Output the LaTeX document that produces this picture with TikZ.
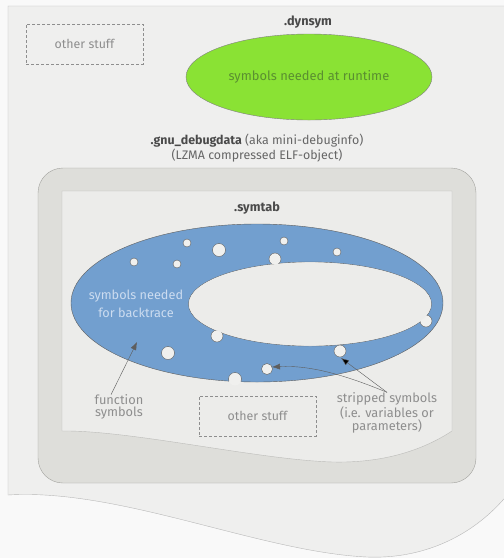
\documentclass[tikz,border=0pt]{standalone}
\usepackage{fontspec}
\setmainfont{Fira Sans}
\usetikzlibrary{shapes,arrows.meta,positioning,calc}
\definecolor{outerbg}{HTML}{F9F9F9}
\definecolor{pagebg}{HTML}{EFEFEE}
\definecolor{pageline}{HTML}{B8B8B8}
\definecolor{debugbg}{HTML}{DEDEDA}
\definecolor{debugline}{HTML}{A2A29E}
\definecolor{symbg}{HTML}{ECECEA}
\definecolor{symline}{HTML}{BBBBB8}
\definecolor{dotbg}{HTML}{F0F0EE}
\definecolor{ringblue}{HTML}{729FCF}
\definecolor{ringline}{HTML}{5E5E5E}
\definecolor{dyngreen}{HTML}{8AE234}
\definecolor{dyntext}{HTML}{5A8F30}
\definecolor{bttext}{HTML}{CCDCF0}
\definecolor{softtext}{HTML}{8E8E8E}
\definecolor{darktext}{HTML}{4A4A4A}
\definecolor{midtext}{HTML}{666666}
\tikzset{
stuff/.style = {draw=softtext, dash pattern=on 3pt off 2pt, text=softtext, minimum width=117pt, minimum height=40pt, font=\fontsize{12.4}{13}\selectfont},
sect/.style = {text=darktext, font=\fontsize{12.7}{13}\selectfont\bfseries},
note/.style = {text=softtext, align=center, inner sep=0pt, font=\fontsize{12.8}{11.5}\selectfont},
arr/.style = {->, draw=ringline, thin}
}
\begin{document}
\begin{tikzpicture}[x=1pt, y=-1pt, >={Latex[length=8pt,width=6pt]}]
    \useasboundingbox (0,0) rectangle (504,558);
    \fill[outerbg] (0,0) rectangle (504,558);
    \clip (0,0) rectangle (504,558);
    \path[draw=pageline, fill=pagebg] (8,6) -- (530,6) -- (530,460) .. controls (500,520) and (440,560) .. (367,557) .. controls (260,552) and (120,488) .. (8,495) -- cycle;

    \node [stuff] (stuff1) at (84.5,44) {other stuff};
    \node [sect] (dynsym) at (308,22) {.dynsym};
    \node [ellipse, draw=ringline!80, fill=dyngreen, minimum width=246pt, minimum height=86pt, text=dyntext, font=\fontsize{12.9}{13}\selectfont] (runtime) at (309,77) {symbols needed at runtime};
    \node [align=center, text=midtext, font=\fontsize{12.4}{15}\selectfont] (gnu) at (257,148) {\textcolor{darktext}{\bfseries .gnu\_debugdata} (aka mini-debuginfo)\\(LZMA compressed ELF-object)};

    \node [draw=debugline, fill=debugbg, rounded corners=25pt, minimum width=438pt, minimum height=315pt] (debug) at (257,325.5) {};
    \path[draw=symline, fill=symbg] (62,191) -- (452,191) -- (452,431) .. controls (420,452) and (380,463) .. (333,462) .. controls (260,460) and (130,430) .. (62,431) -- cycle;
    \node [sect] (symtab) at (257,208) {.symtab};

    \path[draw=ringline, fill=ringblue] (257,303) ellipse [x radius=186pt, y radius=79pt];
    \path[draw=ringline, fill=symbg] (310,304) ellipse [x radius=121.5pt, y radius=42pt];
    \foreach \x/\y/\r in {187/243/4,219/250/6.5,134/262/4,177/264/4,284/241/4,337/252/4,275/259/6,426/321/6,217/336/6,168/353/6.5,340/351/6,267/369/5.5,235/379/6.5}
        \fill[dotbg] (\x,\y) circle (\r pt);
    \begin{scope}
        \clip (257,303) ellipse [x radius=186pt, y radius=79pt];
        \foreach \x/\y/\r in {187/243/4,219/250/6.5,134/262/4,177/264/4,284/241/4,337/252/4,275/259/6,426/321/6,217/336/6,168/353/6.5,340/351/6,267/369/5.5,235/379/6.5}
            \draw[ringline, thin] (\x,\y) circle (\r pt);
    \end{scope}
    \fill[symbg] (310,304) ellipse [x radius=121.1pt, y radius=41.6pt];
    \node [align=center, text=bttext, font=\fontsize{12.7}{18}\selectfont] (backtrace) at (136,304) {symbols needed\\for backtrace};

    \node [note] (fsym) at (119,407) {function\\symbols};
    \node [stuff] (stuff2) at (257.5,416) {other stuff};
    \node [note] (ssym) at (387,413) {stripped symbols\\(i.e. variables or\\parameters)};
    \coordinate (tipfun) at (137,342);
    \coordinate (tipvar) at (341,358);
    \coordinate (tippar) at (272,367);
    \draw [arr] ([xshift=-8pt]fsym.north) -- (tipfun);
    \draw [arr, -{Latex[length=8pt,width=6pt,fill=black]}] (ssym.north) -- (tipvar);
    \draw [arr] (ssym.north) .. controls (345,375) and (310,365) .. (tippar);
\end{tikzpicture}
\end{document}
